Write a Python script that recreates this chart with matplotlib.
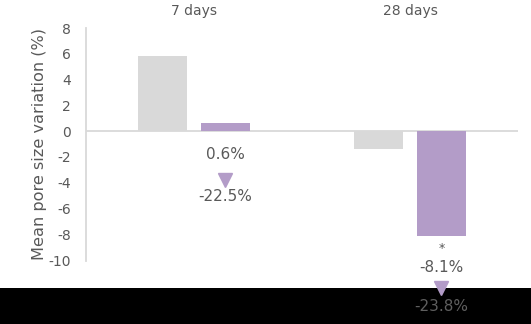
import numpy as np
import matplotlib
matplotlib.use('Agg')
import matplotlib.pyplot as plt
from matplotlib.patches import Rectangle

# data
groups = ['7 days', '28 days']
control = [5.8, -1.4]
treated = [0.6, -8.1]
value_labels = ['0.6%', '-8.1%']
star_labels = ['', '*']
reduction_labels = ['-22.5%', '-23.8%']
yticks = [8, 6, 4, 2, 0, -2, -4, -6, -8, -10]

grey = '#d9d9d9'
purple = '#b39cc8'
text_col = '#595959'

plt.rcParams['axes.unicode_minus'] = False

fig = plt.figure(figsize=(5.31, 3.24), dpi=100)
ax = fig.add_axes([86/531, (324-260)/324, (518-86)/531, (260-28)/324])
ax.patch.set_visible(False)

# black band at the bottom of the picture
fig.patches.append(Rectangle((0, 0), 1, 36/324, transform=fig.transFigure,
                             facecolor='black', edgecolor='none', zorder=-1))

x = np.arange(len(groups))
w = 0.225
off = 0.145
ax.bar(x - off, control, w, color=grey, zorder=2)
ax.bar(x + off, treated, w, color=purple, zorder=2)
ax.axhline(0, color=grey, lw=1.3, zorder=1)

ax.set_xlim(-0.5, 1.5)
ax.set_ylim(-10, 8)
ax.set_yticks(yticks)
ax.tick_params(axis='y', length=0, pad=11, labelsize=10, labelcolor=text_col)
ax.set_xticks([])
for s in ['top', 'right', 'bottom']:
    ax.spines[s].set_visible(False)
ax.spines['left'].set_color(grey)
ax.spines['left'].set_linewidth(1.3)
ax.spines['left'].set_bounds(-10.1, 8)

ax.set_ylabel('Mean pore size variation (%)', fontsize=11.6, color=text_col, labelpad=1)

for i, g in enumerate(groups):
    ax.text(x[i], 8.8, g, ha='center', va='bottom', fontsize=10, color=text_col)

# annotations under purple bars
ax.text(x[0] + off, -1.85, value_labels[0], ha='center', va='center', fontsize=11, color=text_col)
ax.plot([x[0] + off], [-3.8], marker='v', ms=9.5, color=purple, clip_on=False)
ax.text(x[0] + off, -5.1, reduction_labels[0], ha='center', va='center', fontsize=11, color=text_col)

ax.text(x[1] + off, -9.1, star_labels[1], ha='center', va='center', fontsize=9, color=text_col, clip_on=False)
ax.text(x[1] + off, -10.6, value_labels[1], ha='center', va='center', fontsize=11, color=text_col, clip_on=False)
ax.plot([x[1] + off], [-12.2], marker='v', ms=9.5, color=purple, clip_on=False)
ax.text(x[1] + off, -13.6, reduction_labels[1], ha='center', va='center', fontsize=11, color='#5f5f5f', clip_on=False)

fig.savefig('out.png', dpi=100)
